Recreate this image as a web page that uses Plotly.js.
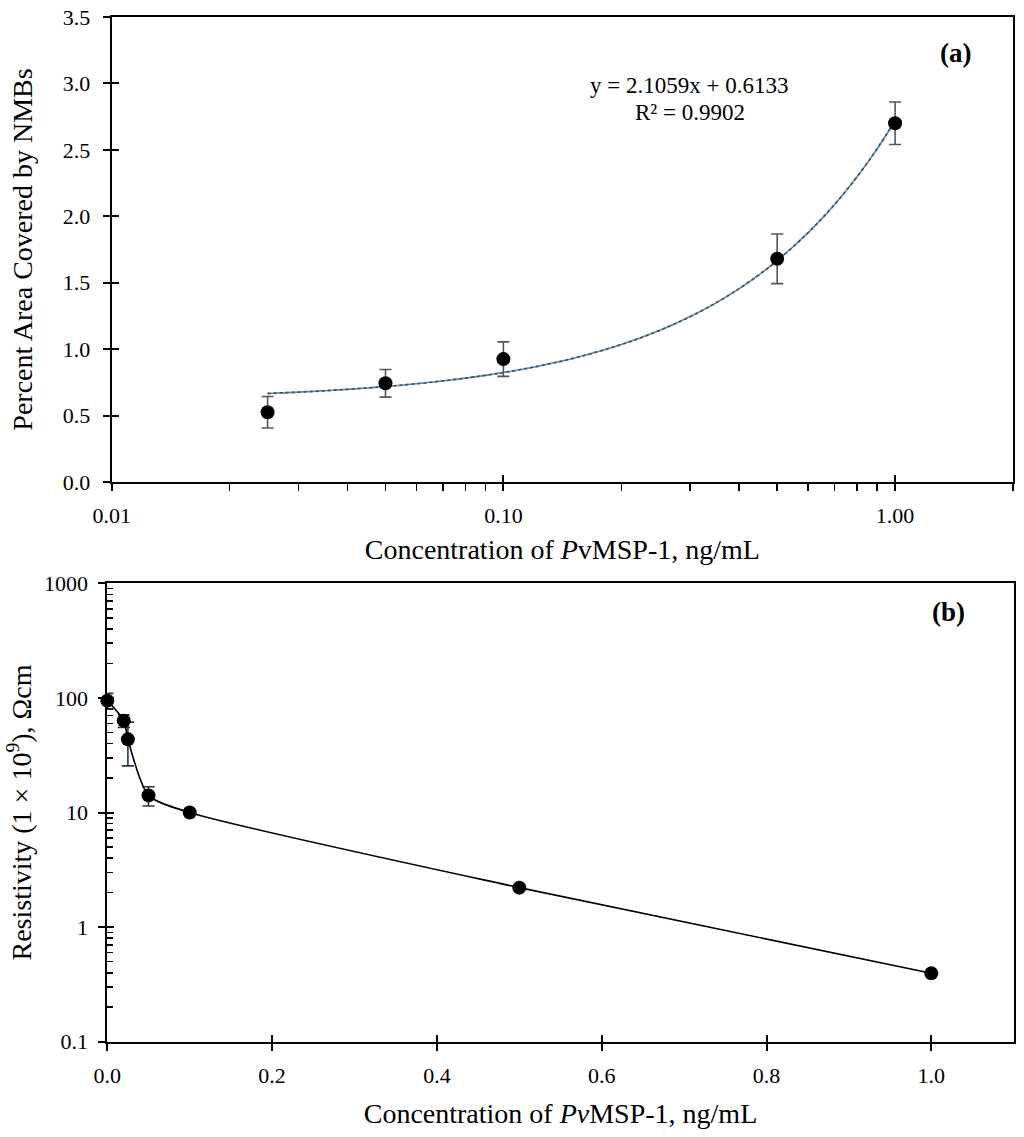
<!DOCTYPE html>
<html><head><meta charset="utf-8">
<script src="https://cdn.plot.ly/plotly-3.0.1.min.js"></script>
<style>html,body{margin:0;padding:0;background:#fff}</style>
</head><body>
<div id="chart" style="width:1024px;height:1137px"></div>
<script>
// ---- Panel (a) data ----
const concA = [0.025, 0.05, 0.1, 0.5, 1.0];
const areaA = [0.525, 0.743, 0.925, 1.68, 2.70];
const errA  = [0.118, 0.104, 0.13, 0.187, 0.16];
// trendline shown on chart: y = 2.1059x + 0.6133
const fitSlope = 2.1059, fitIntercept = 0.6133;
const fitX = [0.025,0.03,0.035,0.04,0.045,0.05,0.06,0.07,0.08,0.09,0.1,0.12,0.15,0.2,0.25,0.3,0.35,0.4,0.45,0.5,0.6,0.7,0.8,0.9,1.0];
const xTickValsA = [0.01, 0.1, 1];
const xTickTextA = ['0.01', '0.10', '1.00'];
const xMinorA = [0.02,0.03,0.04,0.05,0.06,0.07,0.08,0.09,0.2,0.3,0.4,0.5,0.6,0.7,0.8,0.9,2];
const yTickValsA = [0, 0.5, 1.0, 1.5, 2.0, 2.5, 3.0, 3.5];

// ---- Panel (b) data ----
const concB = [0, 0.02, 0.025, 0.05, 0.1, 0.5, 1.0];
const resB  = [94.6, 63.3, 43.5, 14.1, 10.0, 2.21, 0.395];
const errB  = [15, 8, 18, 2.7, 0, 0, 0];
const xTickValsB = [0, 0.2, 0.4, 0.6, 0.8, 1.0];
const yTickValsB = [0.1, 1, 10, 100, 1000];
const yTickTextB = ['0.1', '1', '10', '100', '1000'];
const yMinorB = [0.2,0.3,0.4,0.5,0.6,0.7,0.8,0.9,2,3,4,5,6,7,8,9,20,30,40,50,60,70,80,90,200,300,400,500,600,700,800,900];

const FONT = 'Liberation Serif, "Times New Roman", serif';
const W = 1024, H = 1137;
const px = v => v / W;
const py = v => (H - v) / H;

const fitY = fitX.map(x => fitSlope * x + fitIntercept);

const traces = [
  { x: fitX, y: fitY, xaxis: 'x', yaxis: 'y', mode: 'lines', type: 'scatter',
    line: { color: '#808080', width: 1.6, shape: 'spline' }, hoverinfo: 'skip', showlegend: false },
  { x: fitX, y: fitY, xaxis: 'x', yaxis: 'y', mode: 'lines', type: 'scatter',
    line: { color: '#1f5f99', width: 1.8, dash: 'dot', shape: 'spline' }, hoverinfo: 'skip', showlegend: false },
  { x: concA, y: areaA, xaxis: 'x', yaxis: 'y', mode: 'markers', type: 'scatter', cliponaxis: false,
    marker: { color: '#000', size: 14 },
    error_y: { type: 'data', array: errA, visible: true, color: '#555555', thickness: 1.6, width: 6 },
    showlegend: false },
  { x: concB, y: resB, xaxis: 'x2', yaxis: 'y2', mode: 'lines+markers', type: 'scatter', cliponaxis: false,
    line: { color: '#000', width: 1.6, shape: 'spline', smoothing: 0.7 },
    marker: { color: '#000', size: 14 },
    error_y: { type: 'data', array: errB, visible: true, color: '#1f3550', thickness: 1.6, width: 6 },
    showlegend: false },
  // empty traces to host the overlay axes that draw the inner half of crossing ticks
  { x: [], y: [], xaxis: 'x3', yaxis: 'y', type: 'scatter', mode: 'markers', showlegend: false, hoverinfo: 'skip' },
  { x: [], y: [], xaxis: 'x', yaxis: 'y3', type: 'scatter', mode: 'markers', showlegend: false, hoverinfo: 'skip' },
  { x: [], y: [], xaxis: 'x4', yaxis: 'y2', type: 'scatter', mode: 'markers', showlegend: false, hoverinfo: 'skip' },
  { x: [], y: [], xaxis: 'x2', yaxis: 'y4', type: 'scatter', mode: 'markers', showlegend: false, hoverinfo: 'skip' }
];

const tickFont = { family: FONT, size: 22, color: '#000' };
const titleFont = { family: FONT, size: 28, color: '#000' };
const common = { showline: true, linecolor: '#000', linewidth: 2, mirror: true, showgrid: false, zeroline: false,
  ticks: 'outside', ticklen: 7, tickwidth: 2, tickcolor: '#000', tickfont: tickFont, automargin: false, fixedrange: true };
const overlay = { showline: false, showgrid: false, zeroline: false, showticklabels: false,
  ticks: 'inside', ticklen: 7, tickwidth: 2, tickcolor: '#000', fixedrange: true, automargin: false };

const layout = {
  width: W, height: H,
  margin: { l: 0, r: 0, t: 0, b: 0 },
  paper_bgcolor: '#fff', plot_bgcolor: '#fff',
  showlegend: false,
  font: { family: FONT, color: '#000' },
  xaxis: Object.assign({}, common, {
    domain: [px(111.7), px(1013)], anchor: 'y', type: 'log', range: [-2, Math.log10(2)],
    tickmode: 'array', tickvals: xTickValsA, ticktext: xTickTextA, ticklabelstandoff: 6,
    minor: { tickmode: 'array', tickvals: xMinorA, ticks: 'outside', ticklen: 7, tickwidth: 1.6, tickcolor: '#000', showgrid: false },
    title: { text: 'Concentration of <i>P</i>vMSP-1, ng/mL', font: titleFont, standoff: 12 }
  }),
  yaxis: Object.assign({}, common, {
    domain: [py(482), py(17)], anchor: 'x', range: [0, 3.5],
    tickmode: 'array', tickvals: yTickValsA, tickformat: '.1f', ticklabelstandoff: 8,
    title: { text: 'Percent Area Covered by NMBs', font: titleFont, standoff: 22 }
  }),
  xaxis3: Object.assign({}, overlay, {
    overlaying: 'x', anchor: 'y', type: 'log', range: [-2, Math.log10(2)], tickmode: 'array', tickvals: xTickValsA
  }),
  yaxis3: Object.assign({}, overlay, {
    overlaying: 'y', anchor: 'x', range: [0, 3.5], tickmode: 'array', tickvals: yTickValsA
  }),
  xaxis2: Object.assign({}, common, {
    domain: [px(107.3), px(1013.7)], anchor: 'y2', range: [0, 1.1], layer: 'below traces',
    tickmode: 'array', tickvals: xTickValsB, tickformat: '.1f', ticklabelstandoff: 6,
    title: { text: 'Concentration of <i>Pv</i>MSP-1, ng/mL', font: titleFont, standoff: 16 }
  }),
  yaxis2: Object.assign({}, common, {
    domain: [py(1041.7), py(583.3)], anchor: 'x2', type: 'log', range: [-1, 3], layer: 'below traces',
    tickmode: 'array', tickvals: yTickValsB, ticktext: yTickTextB, ticklabelstandoff: 6,
    minor: { tickmode: 'array', tickvals: yMinorB, ticks: 'inside', ticklen: 6, tickwidth: 1.6, tickcolor: '#000', showgrid: false },
    title: { text: 'Resistivity (1 × 10<sup>9</sup>), Ωcm', font: titleFont, standoff: 4 }
  }),
  xaxis4: Object.assign({}, overlay, {
    overlaying: 'x2', anchor: 'y2', range: [0, 1.1], tickmode: 'array', tickvals: xTickValsB, layer: 'below traces'
  }),
  yaxis4: Object.assign({}, overlay, {
    overlaying: 'y2', anchor: 'x2', type: 'log', range: [-1, 3], tickmode: 'array', tickvals: yTickValsB, layer: 'below traces'
  }),
  annotations: [
    { text: '<b>(a)</b>', xref: 'paper', yref: 'paper', x: px(955), y: py(53), xanchor: 'center', yanchor: 'middle',
      showarrow: false, font: { family: FONT, size: 27, color: '#000' } },
    { text: 'y = 2.1059x + 0.6133', xref: 'paper', yref: 'paper', x: px(689), y: py(85), xanchor: 'center', yanchor: 'middle',
      showarrow: false, font: { family: FONT, size: 23, color: '#000' } },
    { text: 'R² = 0.9902', xref: 'paper', yref: 'paper', x: px(690), y: py(113), xanchor: 'center', yanchor: 'middle',
      showarrow: false, font: { family: FONT, size: 23, color: '#000' } },
    { text: '<b>(b)</b>', xref: 'paper', yref: 'paper', x: px(948), y: py(612), xanchor: 'center', yanchor: 'middle',
      showarrow: false, font: { family: FONT, size: 27, color: '#000' } }
  ]
};

Plotly.newPlot('chart', traces, layout, { displayModeBar: false, staticPlot: true });
</script>
</body></html>
